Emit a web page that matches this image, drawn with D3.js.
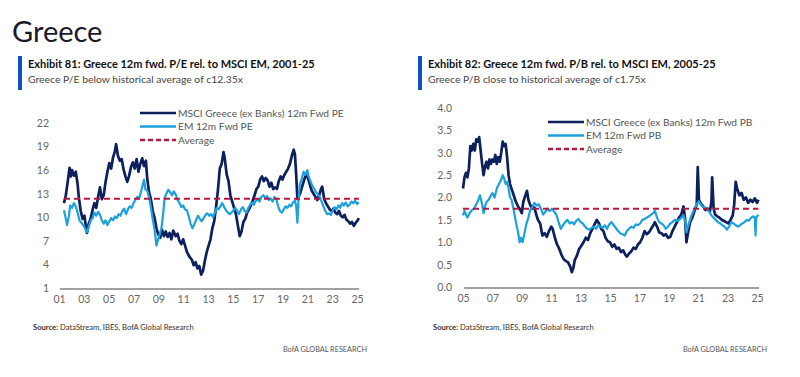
<!DOCTYPE html>
<html>
<head>
<meta charset="utf-8">
<script src="https://cdn.jsdelivr.net/npm/d3@7"></script>
<style>
  body { margin: 0; background: #fff; }
  svg { display: block; font-family: Lato, "Open Sans", sans-serif; }
</style>
</head>
<body>
<svg id="chart" width="800" height="377"></svg>
<script>
// ---- data ----
var peTicks = [1, 4, 7, 10, 13, 16, 19, 22];
var peYears = [2001, 2003, 2005, 2007, 2009, 2011, 2013, 2015, 2017, 2019, 2021, 2023, 2025];
var peAverage = 12.35;

var greecePE = [
  [2001.4, 11.8], [2001.55, 12.8], [2001.7, 14.5], [2001.85, 16.3], [2001.95, 15.2], [2002.05, 16.0],
  [2002.2, 15.3], [2002.35, 15.8], [2002.5, 14.2], [2002.6, 12.5], [2002.75, 10.8], [2002.9, 9.8],
  [2003.05, 10.2], [2003.15, 9.0], [2003.25, 8.0], [2003.4, 9.2], [2003.55, 9.8], [2003.7, 10.9],
  [2003.85, 11.8], [2004.0, 11.2], [2004.15, 12.6], [2004.3, 13.8], [2004.45, 12.3], [2004.6, 12.8],
  [2004.75, 14.5], [2004.9, 15.8], [2005.05, 16.9], [2005.2, 16.2], [2005.35, 17.6], [2005.5, 18.4],
  [2005.6, 19.3], [2005.75, 17.8], [2005.9, 17.2], [2006.05, 17.4], [2006.2, 16.1], [2006.35, 15.2],
  [2006.5, 14.5], [2006.65, 15.3], [2006.8, 16.4], [2006.95, 17.0], [2007.1, 16.2], [2007.25, 17.4],
  [2007.4, 15.8], [2007.55, 16.8], [2007.7, 17.5], [2007.85, 16.5], [2008.0, 17.2], [2008.1, 15.0],
  [2008.25, 13.2], [2008.4, 12.3], [2008.55, 10.8], [2008.7, 9.9], [2008.85, 8.6], [2009.0, 7.8],
  [2009.15, 7.4], [2009.3, 8.4], [2009.45, 7.6], [2009.6, 8.2], [2009.75, 7.5], [2009.9, 8.0],
  [2010.05, 7.2], [2010.2, 8.3], [2010.4, 7.6], [2010.55, 7.9], [2010.7, 7.0], [2010.85, 6.6],
  [2011.0, 7.2], [2011.15, 6.4], [2011.3, 5.6], [2011.5, 5.0], [2011.7, 4.6], [2011.85, 3.9],
  [2012.0, 4.3], [2012.15, 3.5], [2012.3, 3.8], [2012.45, 2.7], [2012.6, 3.2], [2012.75, 4.5],
  [2012.9, 5.6], [2013.05, 6.4], [2013.2, 7.2], [2013.35, 8.6], [2013.5, 9.5], [2013.65, 11.3],
  [2013.8, 13.5], [2013.95, 16.2], [2014.1, 16.8], [2014.25, 18.3], [2014.35, 17.5], [2014.5, 15.5],
  [2014.65, 14.6], [2014.8, 12.8], [2014.95, 12.0], [2015.1, 11.2], [2015.25, 10.4], [2015.4, 9.0],
  [2015.55, 7.6], [2015.7, 8.2], [2015.85, 9.4], [2016.0, 9.8], [2016.15, 10.6], [2016.3, 11.0],
  [2016.45, 11.5], [2016.6, 12.1], [2016.75, 12.8], [2016.9, 13.6], [2017.05, 13.9], [2017.2, 14.8],
  [2017.35, 15.2], [2017.5, 14.6], [2017.65, 15.0], [2017.8, 14.7], [2017.95, 13.9], [2018.1, 14.4],
  [2018.25, 13.6], [2018.4, 13.8], [2018.55, 13.6], [2018.7, 14.6], [2018.85, 15.2], [2019.0, 14.8],
  [2019.15, 15.4], [2019.3, 15.8], [2019.45, 16.2], [2019.6, 16.8], [2019.75, 17.8], [2019.9, 18.6],
  [2020.0, 18.0], [2020.1, 15.5], [2020.2, 12.3], [2020.3, 12.6], [2020.45, 13.2], [2020.6, 14.0],
  [2020.75, 14.8], [2020.9, 15.4], [2021.05, 15.0], [2021.2, 14.2], [2021.35, 13.4], [2021.5, 13.0],
  [2021.65, 12.6], [2021.8, 12.2], [2021.95, 12.8], [2022.1, 13.6], [2022.2, 13.9], [2022.35, 12.4],
  [2022.5, 11.8], [2022.65, 11.4], [2022.8, 11.0], [2022.95, 10.8], [2023.1, 11.1], [2023.25, 10.6],
  [2023.4, 10.4], [2023.55, 10.8], [2023.7, 10.2], [2023.85, 10.0], [2024.0, 10.3], [2024.15, 9.7],
  [2024.3, 9.5], [2024.45, 9.2], [2024.6, 9.4], [2024.75, 8.9], [2024.9, 9.3], [2025.05, 9.6],
  [2025.15, 9.9]
];

var emPE = [
  [2001.4, 10.9], [2001.55, 9.8], [2001.65, 9.0], [2001.8, 10.2], [2001.9, 11.5], [2002.05, 11.2],
  [2002.2, 11.8], [2002.35, 11.4], [2002.5, 10.6], [2002.65, 9.6], [2002.8, 9.3], [2002.95, 9.0],
  [2003.1, 8.6], [2003.25, 8.1], [2003.4, 8.8], [2003.55, 9.6], [2003.7, 9.9], [2003.85, 10.6],
  [2004.0, 10.2], [2004.15, 10.7], [2004.3, 10.3], [2004.45, 9.6], [2004.6, 9.2], [2004.75, 9.6],
  [2004.9, 9.0], [2005.05, 9.5], [2005.2, 9.9], [2005.35, 9.6], [2005.5, 10.1], [2005.65, 9.9],
  [2005.8, 10.4], [2005.95, 10.2], [2006.1, 10.8], [2006.25, 11.1], [2006.4, 10.4], [2006.55, 11.0],
  [2006.7, 11.4], [2006.85, 11.2], [2007.0, 11.8], [2007.15, 12.2], [2007.3, 12.6], [2007.45, 12.4],
  [2007.6, 13.2], [2007.75, 14.2], [2007.85, 14.8], [2007.95, 13.6], [2008.1, 13.4], [2008.25, 12.6],
  [2008.4, 11.3], [2008.55, 9.7], [2008.7, 8.4], [2008.85, 6.4], [2008.95, 7.0], [2009.1, 7.8],
  [2009.25, 8.6], [2009.4, 10.6], [2009.5, 12.4], [2009.65, 13.0], [2009.8, 13.5], [2009.95, 13.2],
  [2010.1, 12.8], [2010.25, 13.3], [2010.4, 12.9], [2010.55, 12.2], [2010.7, 11.8], [2010.85, 11.3],
  [2011.0, 11.5], [2011.15, 11.0], [2011.3, 10.9], [2011.45, 10.1], [2011.6, 9.2], [2011.75, 8.6],
  [2011.9, 9.1], [2012.05, 9.7], [2012.2, 10.2], [2012.35, 9.8], [2012.5, 9.5], [2012.65, 9.9],
  [2012.8, 10.3], [2012.95, 10.5], [2013.1, 10.2], [2013.25, 10.4], [2013.4, 10.0], [2013.55, 10.6],
  [2013.7, 11.2], [2013.85, 11.0], [2014.0, 11.4], [2014.15, 11.8], [2014.3, 11.3], [2014.45, 10.9],
  [2014.6, 10.6], [2014.75, 10.4], [2014.9, 10.6], [2015.05, 10.9], [2015.2, 11.2], [2015.35, 10.8],
  [2015.5, 10.4], [2015.65, 11.0], [2015.8, 11.3], [2015.95, 10.8], [2016.1, 10.6], [2016.25, 11.2],
  [2016.4, 11.6], [2016.55, 11.9], [2016.7, 11.6], [2016.85, 12.1], [2017.0, 12.3], [2017.15, 12.0],
  [2017.3, 12.6], [2017.45, 12.8], [2017.6, 12.5], [2017.75, 12.7], [2017.9, 12.2], [2018.05, 12.4],
  [2018.2, 12.0], [2018.35, 12.6], [2018.5, 12.3], [2018.65, 11.4], [2018.8, 10.8], [2018.95, 10.6],
  [2019.1, 11.0], [2019.25, 11.4], [2019.4, 11.2], [2019.55, 11.6], [2019.7, 11.4], [2019.85, 11.9],
  [2020.0, 12.1], [2020.1, 11.5], [2020.2, 9.3], [2020.3, 12.4], [2020.4, 14.2], [2020.55, 14.9],
  [2020.7, 15.8], [2020.85, 15.4], [2021.0, 16.0], [2021.1, 15.2], [2021.25, 14.6], [2021.4, 14.0],
  [2021.55, 13.6], [2021.7, 13.2], [2021.85, 12.9], [2022.0, 12.6], [2022.15, 12.0], [2022.3, 11.4],
  [2022.45, 10.8], [2022.6, 10.4], [2022.75, 10.5], [2022.9, 10.3], [2023.05, 10.9], [2023.2, 11.3],
  [2023.35, 11.0], [2023.5, 11.5], [2023.65, 11.2], [2023.8, 11.8], [2023.95, 11.5], [2024.1, 11.9],
  [2024.25, 11.4], [2024.4, 11.6], [2024.55, 12.0], [2024.7, 11.8], [2024.85, 12.1], [2025.0, 11.7],
  [2025.15, 11.9]
];

var pbTicks = [0, 0.5, 1, 1.5, 2, 2.5, 3, 3.5, 4];
var pbYears = [2005, 2007, 2009, 2011, 2013, 2015, 2017, 2019, 2021, 2023, 2025];
var pbAverage = 1.75;

var greecePB = [
  [2005.0, 2.2], [2005.1, 2.45], [2005.2, 2.55], [2005.3, 2.45], [2005.4, 2.65], [2005.5, 3.15],
  [2005.6, 3.05], [2005.7, 3.2], [2005.8, 3.05], [2005.9, 3.3], [2006.0, 3.25], [2006.1, 3.35],
  [2006.2, 3.05], [2006.3, 2.75], [2006.4, 2.5], [2006.5, 2.7], [2006.6, 2.8], [2006.7, 2.65],
  [2006.8, 2.85], [2006.9, 2.75], [2007.0, 2.85], [2007.1, 2.8], [2007.2, 2.95], [2007.3, 2.75],
  [2007.4, 2.9], [2007.5, 2.8], [2007.6, 3.0], [2007.7, 3.25], [2007.8, 3.15], [2007.9, 3.2],
  [2008.0, 2.9], [2008.1, 2.5], [2008.2, 2.3], [2008.3, 2.2], [2008.4, 2.1], [2008.5, 2.0],
  [2008.6, 1.9], [2008.75, 1.8], [2008.9, 1.72], [2009.0, 1.65], [2009.1, 1.9], [2009.2, 2.0],
  [2009.35, 2.15], [2009.45, 1.95], [2009.55, 1.85], [2009.7, 1.75], [2009.85, 1.78], [2010.0, 1.6],
  [2010.1, 1.5], [2010.25, 1.42], [2010.4, 1.15], [2010.55, 1.2], [2010.7, 1.12], [2010.85, 1.25],
  [2011.0, 1.35], [2011.1, 1.3], [2011.25, 1.1], [2011.4, 0.95], [2011.55, 0.85], [2011.7, 0.72],
  [2011.85, 0.62], [2012.0, 0.58], [2012.15, 0.55], [2012.3, 0.45], [2012.4, 0.33], [2012.5, 0.42],
  [2012.6, 0.6], [2012.75, 0.7], [2012.9, 0.85], [2013.05, 0.92], [2013.2, 1.0], [2013.35, 1.1],
  [2013.5, 1.05], [2013.65, 1.2], [2013.8, 1.3], [2013.95, 1.4], [2014.1, 1.5], [2014.25, 1.42],
  [2014.4, 1.3], [2014.55, 1.25], [2014.7, 1.1], [2014.85, 1.02], [2015.0, 1.0], [2015.15, 0.9],
  [2015.3, 0.95], [2015.45, 0.85], [2015.6, 0.88], [2015.75, 0.78], [2015.9, 0.82], [2016.05, 0.72],
  [2016.15, 0.68], [2016.3, 0.75], [2016.45, 0.8], [2016.6, 0.88], [2016.75, 0.85], [2016.9, 0.95],
  [2017.05, 1.0], [2017.2, 1.1], [2017.35, 1.25], [2017.5, 1.18], [2017.65, 1.22], [2017.8, 1.3],
  [2017.95, 1.38], [2018.05, 1.45], [2018.2, 1.35], [2018.35, 1.22], [2018.5, 1.2], [2018.65, 1.15],
  [2018.8, 1.18], [2018.95, 1.1], [2019.1, 1.12], [2019.25, 1.25], [2019.4, 1.35], [2019.55, 1.45],
  [2019.7, 1.55], [2019.85, 1.62], [2020.0, 1.8], [2020.1, 1.55], [2020.2, 1.0], [2020.3, 1.2],
  [2020.45, 1.45], [2020.6, 1.55], [2020.75, 1.7], [2020.9, 1.85], [2020.97, 2.68], [2021.05, 1.95],
  [2021.2, 1.85], [2021.35, 1.8], [2021.5, 1.72], [2021.65, 1.75], [2021.8, 1.7], [2021.9, 1.9],
  [2021.95, 2.45], [2022.05, 1.75], [2022.15, 1.62], [2022.3, 1.58], [2022.45, 1.55], [2022.6, 1.5],
  [2022.75, 1.48], [2022.9, 1.45], [2023.05, 1.42], [2023.2, 1.5], [2023.35, 1.6], [2023.45, 1.85],
  [2023.55, 2.35], [2023.65, 2.2], [2023.8, 2.05], [2023.95, 2.1], [2024.1, 1.95], [2024.25, 2.0],
  [2024.4, 1.88], [2024.55, 1.95], [2024.7, 1.9], [2024.85, 1.98], [2025.0, 1.88], [2025.1, 1.95]
];

var emPB = [
  [2005.0, 1.6], [2005.1, 1.7], [2005.2, 1.62], [2005.3, 1.55], [2005.45, 1.65], [2005.6, 1.72],
  [2005.75, 1.75], [2005.9, 1.85], [2006.05, 1.95], [2006.15, 2.05], [2006.3, 1.85], [2006.4, 1.65],
  [2006.5, 1.8], [2006.6, 1.9], [2006.75, 1.95], [2006.9, 2.05], [2007.0, 2.1], [2007.15, 2.0],
  [2007.3, 2.2], [2007.45, 2.3], [2007.6, 2.4], [2007.7, 2.5], [2007.8, 2.42], [2007.9, 2.3],
  [2008.0, 2.35], [2008.1, 2.2], [2008.2, 2.0], [2008.3, 1.95], [2008.45, 1.72], [2008.6, 1.45],
  [2008.75, 1.22], [2008.85, 1.0], [2008.95, 1.1], [2009.05, 1.0], [2009.15, 1.15], [2009.3, 1.4],
  [2009.45, 1.55], [2009.55, 1.7], [2009.7, 1.78], [2009.85, 1.88], [2010.0, 1.82], [2010.15, 1.85],
  [2010.3, 1.75], [2010.45, 1.62], [2010.6, 1.68], [2010.75, 1.75], [2010.9, 1.7], [2011.05, 1.75],
  [2011.2, 1.68], [2011.35, 1.62], [2011.5, 1.45], [2011.65, 1.3], [2011.8, 1.38], [2011.95, 1.45],
  [2012.1, 1.5], [2012.25, 1.42], [2012.4, 1.45], [2012.55, 1.4], [2012.7, 1.48], [2012.85, 1.52],
  [2013.0, 1.45], [2013.15, 1.42], [2013.3, 1.35], [2013.45, 1.3], [2013.6, 1.28], [2013.75, 1.32],
  [2013.9, 1.35], [2014.05, 1.3], [2014.2, 1.38], [2014.35, 1.35], [2014.5, 1.32], [2014.65, 1.38],
  [2014.8, 1.3], [2014.95, 1.4], [2015.1, 1.45], [2015.25, 1.38], [2015.4, 1.32], [2015.55, 1.25],
  [2015.7, 1.2], [2015.85, 1.18], [2016.0, 1.15], [2016.15, 1.25], [2016.3, 1.3], [2016.45, 1.35],
  [2016.6, 1.32], [2016.75, 1.4], [2016.9, 1.38], [2017.05, 1.42], [2017.2, 1.5], [2017.35, 1.52],
  [2017.5, 1.55], [2017.65, 1.58], [2017.8, 1.62], [2017.95, 1.65], [2018.05, 1.7], [2018.2, 1.55],
  [2018.35, 1.45], [2018.5, 1.42], [2018.65, 1.38], [2018.8, 1.3], [2018.95, 1.35], [2019.1, 1.42],
  [2019.25, 1.45], [2019.4, 1.5], [2019.55, 1.48], [2019.7, 1.5], [2019.85, 1.55], [2020.0, 1.6],
  [2020.1, 1.5], [2020.2, 1.22], [2020.3, 1.35], [2020.45, 1.5], [2020.6, 1.65], [2020.75, 1.75],
  [2020.9, 1.85], [2021.05, 1.92], [2021.15, 1.85], [2021.3, 1.8], [2021.45, 1.78], [2021.6, 1.75],
  [2021.75, 1.68], [2021.9, 1.6], [2022.05, 1.55], [2022.2, 1.5], [2022.35, 1.45], [2022.5, 1.42],
  [2022.65, 1.38], [2022.8, 1.35], [2022.95, 1.28], [2023.1, 1.35], [2023.25, 1.45], [2023.4, 1.42],
  [2023.55, 1.38], [2023.7, 1.35], [2023.85, 1.38], [2024.0, 1.42], [2024.15, 1.45], [2024.3, 1.5],
  [2024.45, 1.48], [2024.6, 1.55], [2024.75, 1.58], [2024.85, 1.55], [2024.9, 1.15], [2024.95, 1.55],
  [2025.05, 1.6], [2025.1, 1.58]
];

var navy = '#0d1f5c';
var sky = '#1ba1dd';
var red = '#b8183d';
var blueBar = '#0a52c6';

var svg = d3.select('#chart');

svg.append('text').attr('x', 12).attr('y', 42)
  .attr('font-size', 29).attr('fill', '#1a1a2a').text('Greece');

function panel(opt) {
  var g = svg.append('g');

  g.append('rect').attr('x', opt.left - 10).attr('y', 56)
    .attr('width', 4).attr('height', 34).attr('fill', blueBar);
  g.append('text').attr('x', opt.left).attr('y', 68)
    .attr('font-size', 11).attr('font-weight', 'bold').attr('fill', '#111')
    .text(opt.title);
  g.append('text').attr('x', opt.left).attr('y', 83)
    .attr('font-size', 10.4).attr('fill', '#444')
    .text(opt.subtitle);

  var x = d3.scaleLinear().domain(opt.xDomain).range(opt.xRange);
  var y = d3.scaleLinear().domain(opt.yDomain).range(opt.yRange);

  // baseline
  g.append('line')
    .attr('x1', opt.xRange[0] + 1).attr('x2', opt.xRange[1] + 2)
    .attr('y1', y(opt.yDomain[0]) + 1).attr('y2', y(opt.yDomain[0]) + 1)
    .attr('stroke', '#444').attr('stroke-width', 1.2);

  var xAxis = d3.axisBottom(x).tickValues(opt.xTicks).tickSize(0).tickPadding(0)
    .tickFormat(function (d) { return d3.format('02d')(d % 100); });
  g.append('g').attr('transform', 'translate(0,' + (y(opt.yDomain[0]) + 8) + ')')
    .call(xAxis)
    .call(function (a) { a.select('.domain').remove(); })
    .selectAll('text').attr('font-size', 10.5).attr('fill', '#666')
    .attr('font-family', 'Lato, sans-serif');

  var yAxis = d3.axisLeft(y).tickValues(opt.yTicks).tickSize(0).tickPadding(0)
    .tickFormat(opt.yFormat);
  g.append('g').attr('transform', 'translate(' + opt.yLabelX + ',0)')
    .call(yAxis)
    .call(function (a) { a.select('.domain').remove(); })
    .selectAll('text').attr('font-size', 10.5).attr('fill', '#666')
    .attr('font-family', 'Lato, sans-serif');

  var line = d3.line()
    .x(function (d) { return x(d[0]); })
    .y(function (d) { return y(d[1]); });

  g.append('path').datum(opt.greece).attr('d', line)
    .attr('fill', 'none').attr('stroke', navy).attr('stroke-width', 2.7)
    .attr('stroke-linejoin', 'round');
  g.append('path').datum(opt.em).attr('d', line)
    .attr('fill', 'none').attr('stroke', sky).attr('stroke-width', 2.2)
    .attr('stroke-linejoin', 'round');

  var avgX = d3.extent(opt.greece, function (d) { return d[0]; });
  g.append('line')
    .attr('x1', x(avgX[0])).attr('x2', x(avgX[1]))
    .attr('y1', y(opt.average)).attr('y2', y(opt.average))
    .attr('stroke', red).attr('stroke-width', 2).attr('stroke-dasharray', '6,4');

  // legend
  var items = [
    { label: opt.legend[0], color: navy, dash: null },
    { label: opt.legend[1], color: sky, dash: null },
    { label: 'Average', color: red, dash: '5,3' }
  ];
  var lg = g.append('g').attr('transform', 'translate(' + opt.legendX + ',' + opt.legendY + ')');
  items.forEach(function (it, i) {
    var yy = i * 13.5;
    lg.append('line').attr('x1', 0).attr('x2', 36).attr('y1', yy).attr('y2', yy)
      .attr('stroke', it.color).attr('stroke-width', 2.4)
      .attr('stroke-dasharray', it.dash);
    lg.append('text').attr('x', 38).attr('y', yy).attr('dy', '0.35em')
      .attr('font-size', 10.2).attr('fill', '#555').text(it.label);
  });

  // source
  var src = g.append('text').attr('x', opt.left + 5).attr('y', 330)
    .attr('font-size', 7.6).attr('fill', '#333');
  src.append('tspan').attr('font-weight', 'bold').text('Source:');
  src.append('tspan').text(' DataStream, IBES, BofA Global Research');
  g.append('text').attr('x', opt.right).attr('y', 352)
    .attr('text-anchor', 'end').attr('font-size', 7.3).attr('fill', '#555')
    .text('BofA GLOBAL RESEARCH');
}

panel({
  left: 28, right: 367,
  title: 'Exhibit 81: Greece 12m fwd. P/E rel. to MSCI EM, 2001-25',
  subtitle: 'Greece P/E below historical average of c12.35x',
  xDomain: [2001, 2025], xRange: [59, 357], xTicks: peYears,
  yDomain: [1, 22], yRange: [288, 123], yTicks: peTicks,
  yFormat: d3.format('d'), yLabelX: 49,
  greece: greecePE, em: emPE, average: peAverage,
  legend: ['MSCI Greece (ex Banks) 12m Fwd PE', 'EM 12m Fwd PE'],
  legendX: 140, legendY: 113
});

panel({
  left: 428, right: 767,
  title: 'Exhibit 82: Greece 12m fwd. P/B rel. to MSCI EM, 2005-25',
  subtitle: 'Greece P/B close to historical average of c1.75x',
  xDomain: [2005, 2025], xRange: [463, 757], xTicks: pbYears,
  yDomain: [0, 4], yRange: [287, 108], yTicks: pbTicks,
  yFormat: d3.format('.1f'), yLabelX: 452,
  greece: greecePB, em: emPB, average: pbAverage,
  legend: ['MSCI Greece (ex Banks) 12m Fwd PB', 'EM 12m Fwd PB'],
  legendX: 548, legendY: 122
});
</script>
</body>
</html>
